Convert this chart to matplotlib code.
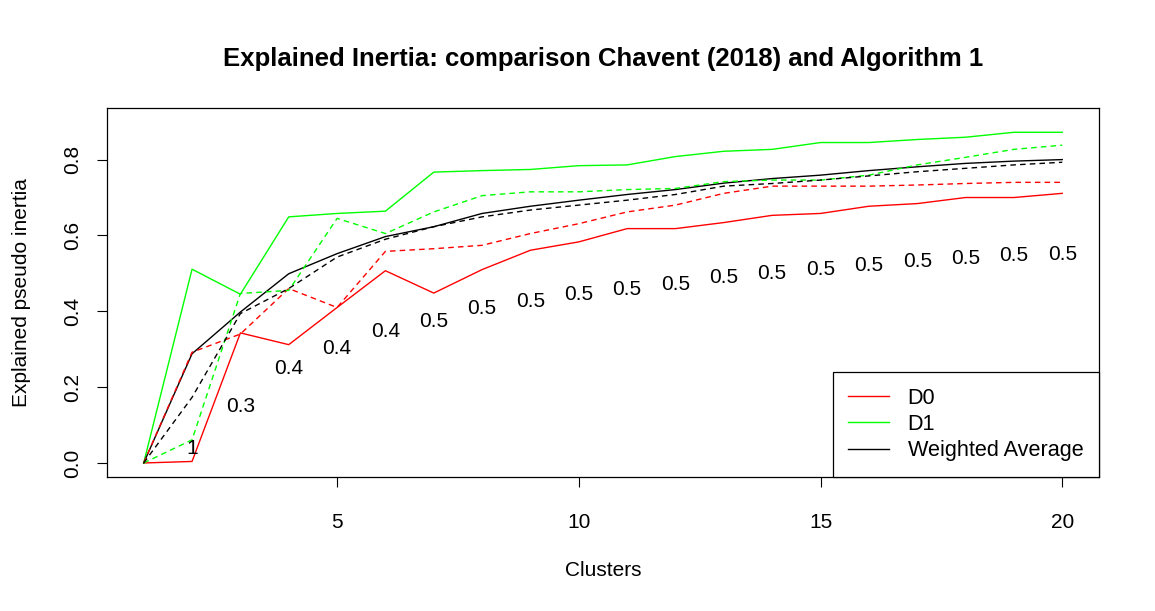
"""
Explained inertia by number of clusters: Chavent (2018) vs Algorithm 1.
Solid lines = Chavent (2018), dashed lines = Algorithm 1.
"""
import matplotlib
matplotlib.use("Agg")
import matplotlib.pyplot as plt

plt.rcParams["font.family"] = ["Liberation Sans", "DejaVu Sans"]

# ── data ────────────────────────────────────────────────────────────────────
clusters = list(range(1, 21))

d0_chavent = [0.0, 0.004, 0.343, 0.312, 0.410, 0.507, 0.448, 0.510, 0.561, 0.583,
              0.618, 0.618, 0.634, 0.653, 0.658, 0.677, 0.684, 0.700, 0.700, 0.711]
d0_algo = [0.0, 0.292, 0.340, 0.460, 0.410, 0.558, 0.565, 0.574, 0.605, 0.631,
           0.662, 0.680, 0.711, 0.730, 0.730, 0.730, 0.733, 0.737, 0.740, 0.740]

d1_chavent = [0.0, 0.511, 0.445, 0.649, 0.658, 0.664, 0.767, 0.771, 0.774, 0.784,
              0.786, 0.808, 0.822, 0.827, 0.845, 0.845, 0.853, 0.859, 0.872, 0.872]
d1_algo = [0.0, 0.061, 0.447, 0.455, 0.645, 0.605, 0.662, 0.705, 0.715, 0.715,
           0.721, 0.724, 0.742, 0.746, 0.746, 0.759, 0.786, 0.806, 0.827, 0.838]

wavg_chavent = [0.0, 0.288, 0.398, 0.499, 0.552, 0.597, 0.623, 0.658, 0.677, 0.693,
                0.708, 0.721, 0.738, 0.750, 0.759, 0.771, 0.781, 0.790, 0.796, 0.800]
wavg_algo = [0.0, 0.173, 0.394, 0.460, 0.543, 0.590, 0.623, 0.649, 0.667, 0.680,
             0.693, 0.708, 0.730, 0.737, 0.746, 0.757, 0.768, 0.777, 0.786, 0.793]

# annotation printed under the curves, from k = 2 on
alpha_labels = ["1", "0.3", "0.4", "0.4", "0.4"] + ["0.5"] * 14
label_offset = 0.25

# ── plot ────────────────────────────────────────────────────────────────────
fig = plt.figure(figsize=(11.55, 6.11), dpi=100)
ax = fig.add_axes([0.0926, 0.2193, 0.8589, 0.6039])

lw = 1.0
dash = (4, 3)
ax.plot(clusters, d0_chavent, color="#FF0000", lw=lw, label="D0")
ax.plot(clusters, d1_chavent, color="#00FF00", lw=lw, label="D1")
ax.plot(clusters, wavg_chavent, color="black", lw=lw, label="Weighted Average")
ax.plot(clusters, d0_algo, color="#FF0000", lw=lw, dashes=dash)
ax.plot(clusters, d1_algo, color="#00FF00", lw=lw, dashes=dash)
ax.plot(clusters, wavg_algo, color="black", lw=lw, dashes=dash)

for k, lab, w in zip(clusters[1:], alpha_labels, wavg_chavent[1:]):
    ax.text(k, w - label_offset, lab, ha="center", va="center", fontsize=15)

ax.set_xlim(0.24, 20.76)
ax.set_ylim(-0.037, 0.936)
ax.set_xticks([5, 10, 15, 20])
ax.set_yticks([0.0, 0.2, 0.4, 0.6, 0.8])
ax.set_yticklabels(["0.0", "0.2", "0.4", "0.6", "0.8"], rotation=90, va="center")
ax.tick_params(direction="out", length=7, width=0.8, labelsize=15)
ax.tick_params(axis="x", pad=19)
ax.tick_params(axis="y", pad=11)

for s in ax.spines.values():
    s.set_linewidth(0.9)

ax.set_title("Explained Inertia: comparison Chavent (2018) and Algorithm 1",
             fontsize=18.5, fontweight="bold", pad=30)
ax.set_xlabel("Clusters", fontsize=15, labelpad=21)
ax.set_ylabel("Explained pseudo inertia", fontsize=15, labelpad=23)

leg = ax.legend(loc="lower right", fontsize=15.6, fancybox=False, framealpha=1,
                edgecolor="black", borderaxespad=0, handlelength=1.86,
                borderpad=0.72, labelspacing=0.25, handletextpad=0.88)
leg.get_frame().set_linewidth(0.9)

fig.savefig("out.png", dpi=100)
